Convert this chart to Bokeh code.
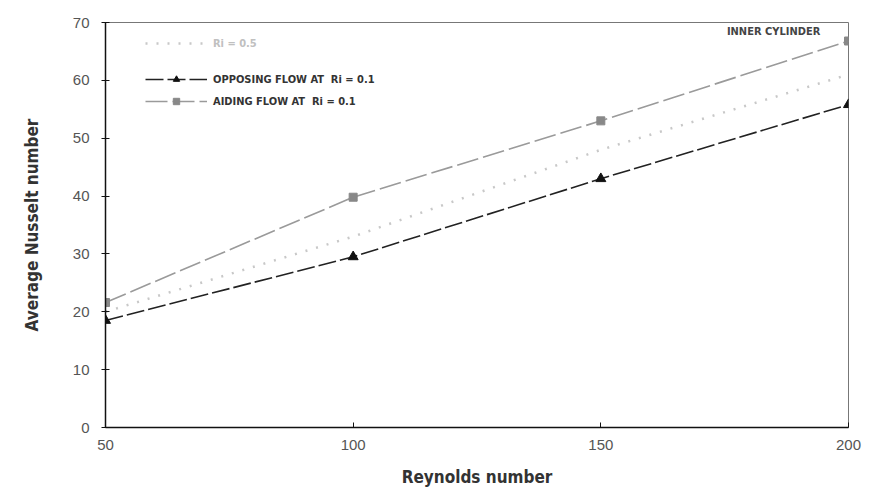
from bokeh.plotting import figure
from bokeh.models import Range1d, FixedTicker, Legend, LegendItem, Label
from bokeh.embed import file_html
from bokeh.resources import INLINE

reynolds = [50, 100, 150, 200]
nu_ri_base = [20.0, 33.0, 48.0, 61.0]
nu_opposing = [18.5, 29.5, 43.0, 55.8]
nu_aiding = [21.6, 39.8, 53.0, 66.8]
y_ticks = [0, 10, 20, 30, 40, 50, 60, 70]
x_ticks = [50, 100, 150, 200]

p = figure(width=871, height=499, output_backend="svg", toolbar_location=None,
           x_range=Range1d(50, 200), y_range=Range1d(0, 70),
           min_border_left=105, min_border_right=23, min_border_top=22, min_border_bottom=72)
p.background_fill_color = "white"
p.border_fill_color = "white"
p.outline_line_color = "#777777"
p.outline_line_width = 1
p.xgrid.visible = False
p.ygrid.visible = False

r0 = p.line(reynolds, nu_ri_base, line_color="#c8c8c8", line_width=2.5, line_dash="2 9")
r1 = p.line(reynolds, nu_opposing, line_color="#222222", line_width=1.6, line_dash="18 4")
s1 = p.scatter(reynolds, nu_opposing, marker="triangle", size=10, color="#111111")
r2 = p.line(reynolds, nu_aiding, line_color="#9a9a9a", line_width=1.6, line_dash="22 5")
s2 = p.scatter(reynolds, nu_aiding, marker="square", size=8, color="#888888")


def style_legend(lg):
    lg.background_fill_alpha = 0
    lg.border_line_alpha = 0
    lg.label_text_font = "DejaVu Sans Condensed"
    lg.label_text_font_size = "11px"
    lg.label_text_font_style = "bold"
    lg.label_text_color = "#333333"
    lg.glyph_width = 62
    lg.glyph_height = 16
    lg.label_height = 16
    lg.spacing = 6
    lg.margin = 0
    lg.padding = 0
    lg.label_standoff = 6


legend_a = Legend(items=[LegendItem(label="Ri = 0.5", renderers=[r0])], location=(40, 376))
legend_b = Legend(items=[
    LegendItem(label="OPPOSING FLOW AT  Ri = 0.1", renderers=[r1, s1]),
    LegendItem(label="AIDING FLOW AT  Ri = 0.1", renderers=[r2, s2]),
], location=(40, 318))
style_legend(legend_a)
style_legend(legend_b)
legend_a.label_text_color = "#c0c0c0"
p.add_layout(legend_a)
p.add_layout(legend_b)

p.add_layout(Label(x=194.3, y=68.4, text="INNER CYLINDER",
                   text_align="right", text_baseline="middle",
                   text_font="DejaVu Sans Condensed", text_font_size="11px",
                   text_font_style="bold", text_color="#444444"))

for ax in (p.xaxis[0], p.yaxis[0]):
    ax.axis_line_color = "#111111"
    ax.axis_line_width = 1.5
    ax.major_tick_line_color = "#111111"
    ax.minor_tick_line_color = None
    ax.major_label_text_font = "Liberation Sans"
    ax.major_label_text_font_size = "15px"
    ax.major_label_text_color = "#555555"
    ax.axis_label_text_font = "DejaVu Sans Condensed"
    ax.axis_label_text_font_size = "17px"
    ax.axis_label_text_font_style = "bold"
    ax.axis_label_text_color = "#333333"

p.xaxis.ticker = FixedTicker(ticks=x_ticks)
p.yaxis.ticker = FixedTicker(ticks=y_ticks)
p.xaxis.axis_label = "Reynolds number"
p.yaxis.axis_label = "Average Nusselt number"
p.xaxis.major_tick_in = 5
p.xaxis.major_tick_out = 0
p.yaxis.major_tick_in = 4
p.yaxis.major_tick_out = 4
p.yaxis.major_label_standoff = 12
p.xaxis.major_label_standoff = 12
p.xaxis.axis_label_standoff = 14
p.yaxis.axis_label_standoff = 28

open("out.html", "w").write(file_html(p, INLINE))
